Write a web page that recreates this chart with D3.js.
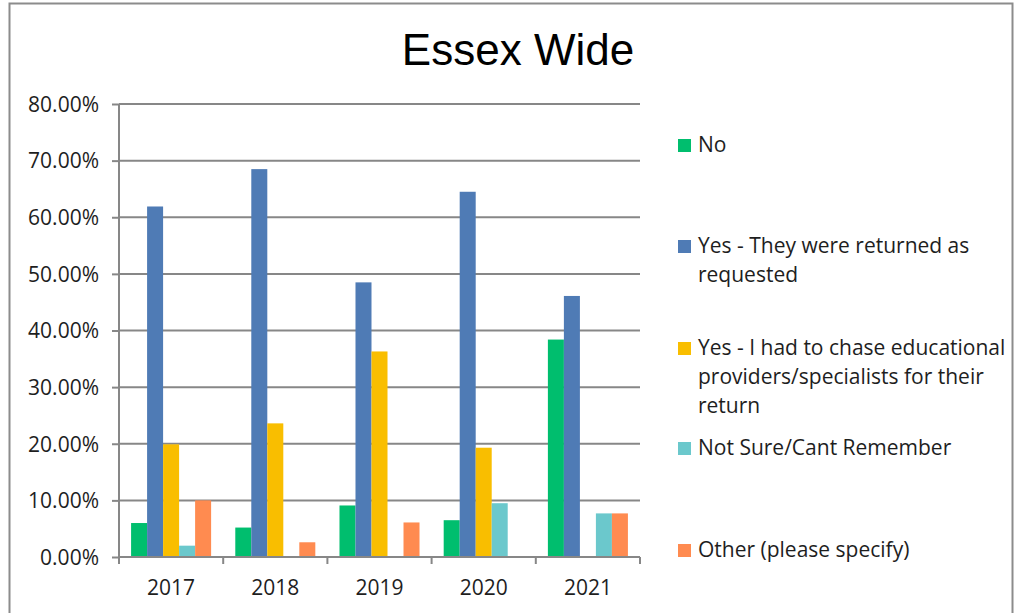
<!DOCTYPE html>
<html>
<head>
<meta charset="utf-8">
<script src="https://cdn.jsdelivr.net/npm/d3@7"></script>
<style>
  html, body { margin: 0; padding: 0; background: #fff; }
  svg { display: block; }
  text { font-family: "Open Sans", Lato, sans-serif; fill: #1e1e1e; }
</style>
</head>
<body>
<svg id="chart" width="1018" height="613"></svg>
<script>
// Survey years and response shares (%)
const years = ["2017", "2018", "2019", "2020", "2021"];
const seriesNames = [
  "No",
  "Yes - They were returned as requested",
  "Yes - I had to chase educational providers/specialists for their return",
  "Not Sure/Cant Remember",
  "Other (please specify)"
];
const noValues        = [6.0, 5.2, 9.1, 6.5, 38.4];
const returnedValues  = [61.9, 68.5, 48.5, 64.5, 46.1];
const chasedValues    = [19.9, 23.6, 36.3, 19.3, 0];
const notSureValues   = [2.0, 0, 0, 9.5, 7.7];
const otherValues     = [10.0, 2.6, 6.1, 0, 7.7];
const yTicks = [0, 10, 20, 30, 40, 50, 60, 70, 80];
const colors = ["#00BE6E", "#4F7BB5", "#F9BE00", "#6BC8CC", "#FF8B50"];
// Legend lines as wrapped in the legend box
const legendLines = [
  ["No"],
  ["Yes - They were returned as", "requested"],
  ["Yes - I had to chase educational", "providers/specialists for their", "return"],
  ["Not Sure/Cant Remember"],
  ["Other (please specify)"]
];

const allSeries = [noValues, returnedValues, chasedValues, notSureValues, otherValues];

const svg = d3.select("#chart");

// Outer chart frame
svg.append("rect")
  .attr("x", 9.5).attr("y", 3.5)
  .attr("width", 1003).attr("height", 640)
  .attr("fill", "none").attr("stroke", "#8c8c8c").attr("stroke-width", 2);

// Title
svg.append("text")
  .attr("x", 518).attr("y", 65)
  .attr("text-anchor", "middle")
  .style("font-family", "'Liberation Sans', Arial, sans-serif")
  .style("font-size", "44px")
  .style("fill", "#000")
  .text("Essex Wide");

const plot = { left: 119, right: 640, top: 104, bottom: 557 };

const x0 = d3.scaleBand().domain(years).range([plot.left, plot.right]).paddingInner(0.232).paddingOuter(0.116);
const x1 = d3.scaleBand().domain(d3.range(seriesNames.length)).range([0, x0.bandwidth()]);
const y = d3.scaleLinear().domain([0, 80]).range([plot.bottom, plot.top]);

// Horizontal gridlines
svg.append("g")
  .selectAll("line")
  .data(yTicks.filter(t => t > 0))
  .join("line")
  .attr("x1", plot.left).attr("x2", plot.right)
  .attr("y1", d => y(d)).attr("y2", d => y(d))
  .attr("stroke", "#878787").attr("stroke-width", 2);

// Bars
const groups = svg.append("g")
  .selectAll("g")
  .data(years)
  .join("g")
  .attr("transform", d => `translate(${x0(d)},0)`);

groups.selectAll("rect")
  .data((d, i) => allSeries.map((s, k) => ({ k, v: s[i] })))
  .join("rect")
  .attr("x", d => x1(d.k))
  .attr("width", x1.bandwidth())
  .attr("y", d => y(d.v))
  .attr("height", d => y(0) - y(d.v))
  .attr("fill", d => colors[d.k]);

// Y axis
const yAxis = svg.append("g")
  .attr("transform", `translate(${plot.left},0)`)
  .call(d3.axisLeft(y).tickValues(yTicks).tickSize(7).tickPadding(13)
    .tickFormat(d => d.toFixed(2) + "%"));
yAxis.selectAll("line, path").attr("stroke", "#878787").attr("stroke-width", 2);
yAxis.select("path").attr("d", `M0,${plot.top}V${plot.bottom}`);
yAxis.selectAll("text").style("font-size", "21px").style("fill", "#1e1e1e")
  .style("font-family", "'Open Sans', sans-serif").attr("dy", "0.35em");

// X axis with ticks at category boundaries
const xAxis = svg.append("g")
  .attr("transform", `translate(0,${plot.bottom})`);
xAxis.append("line")
  .attr("x1", plot.left).attr("x2", plot.right)
  .attr("stroke", "#878787").attr("stroke-width", 2);
const step = (plot.right - plot.left) / years.length;
xAxis.selectAll("line.tick")
  .data(d3.range(years.length + 1))
  .join("line")
  .attr("class", "tick")
  .attr("x1", i => plot.left + i * step).attr("x2", i => plot.left + i * step)
  .attr("y1", 0).attr("y2", 7)
  .attr("stroke", "#878787").attr("stroke-width", 2);
xAxis.selectAll("text")
  .data(years)
  .join("text")
  .attr("x", d => x0(d) + x0.bandwidth() / 2)
  .attr("y", 38)
  .attr("text-anchor", "middle")
  .style("font-size", "21px")
  .text(d => d);

// Legend
const legendY = [152, 253, 355, 455, 557];
const legend = svg.append("g");
legendLines.forEach((lines, i) => {
  legend.append("rect")
    .attr("x", 678).attr("y", legendY[i] - 13)
    .attr("width", 13).attr("height", 13)
    .attr("fill", colors[i]);
  const t = legend.append("text")
    .attr("x", 698).attr("y", legendY[i])
    .style("font-size", "21px");
  lines.forEach((ln, j) => {
    t.append("tspan").attr("x", 698).attr("y", legendY[i] + j * 29).text(ln);
  });
});
</script>
</body>
</html>
